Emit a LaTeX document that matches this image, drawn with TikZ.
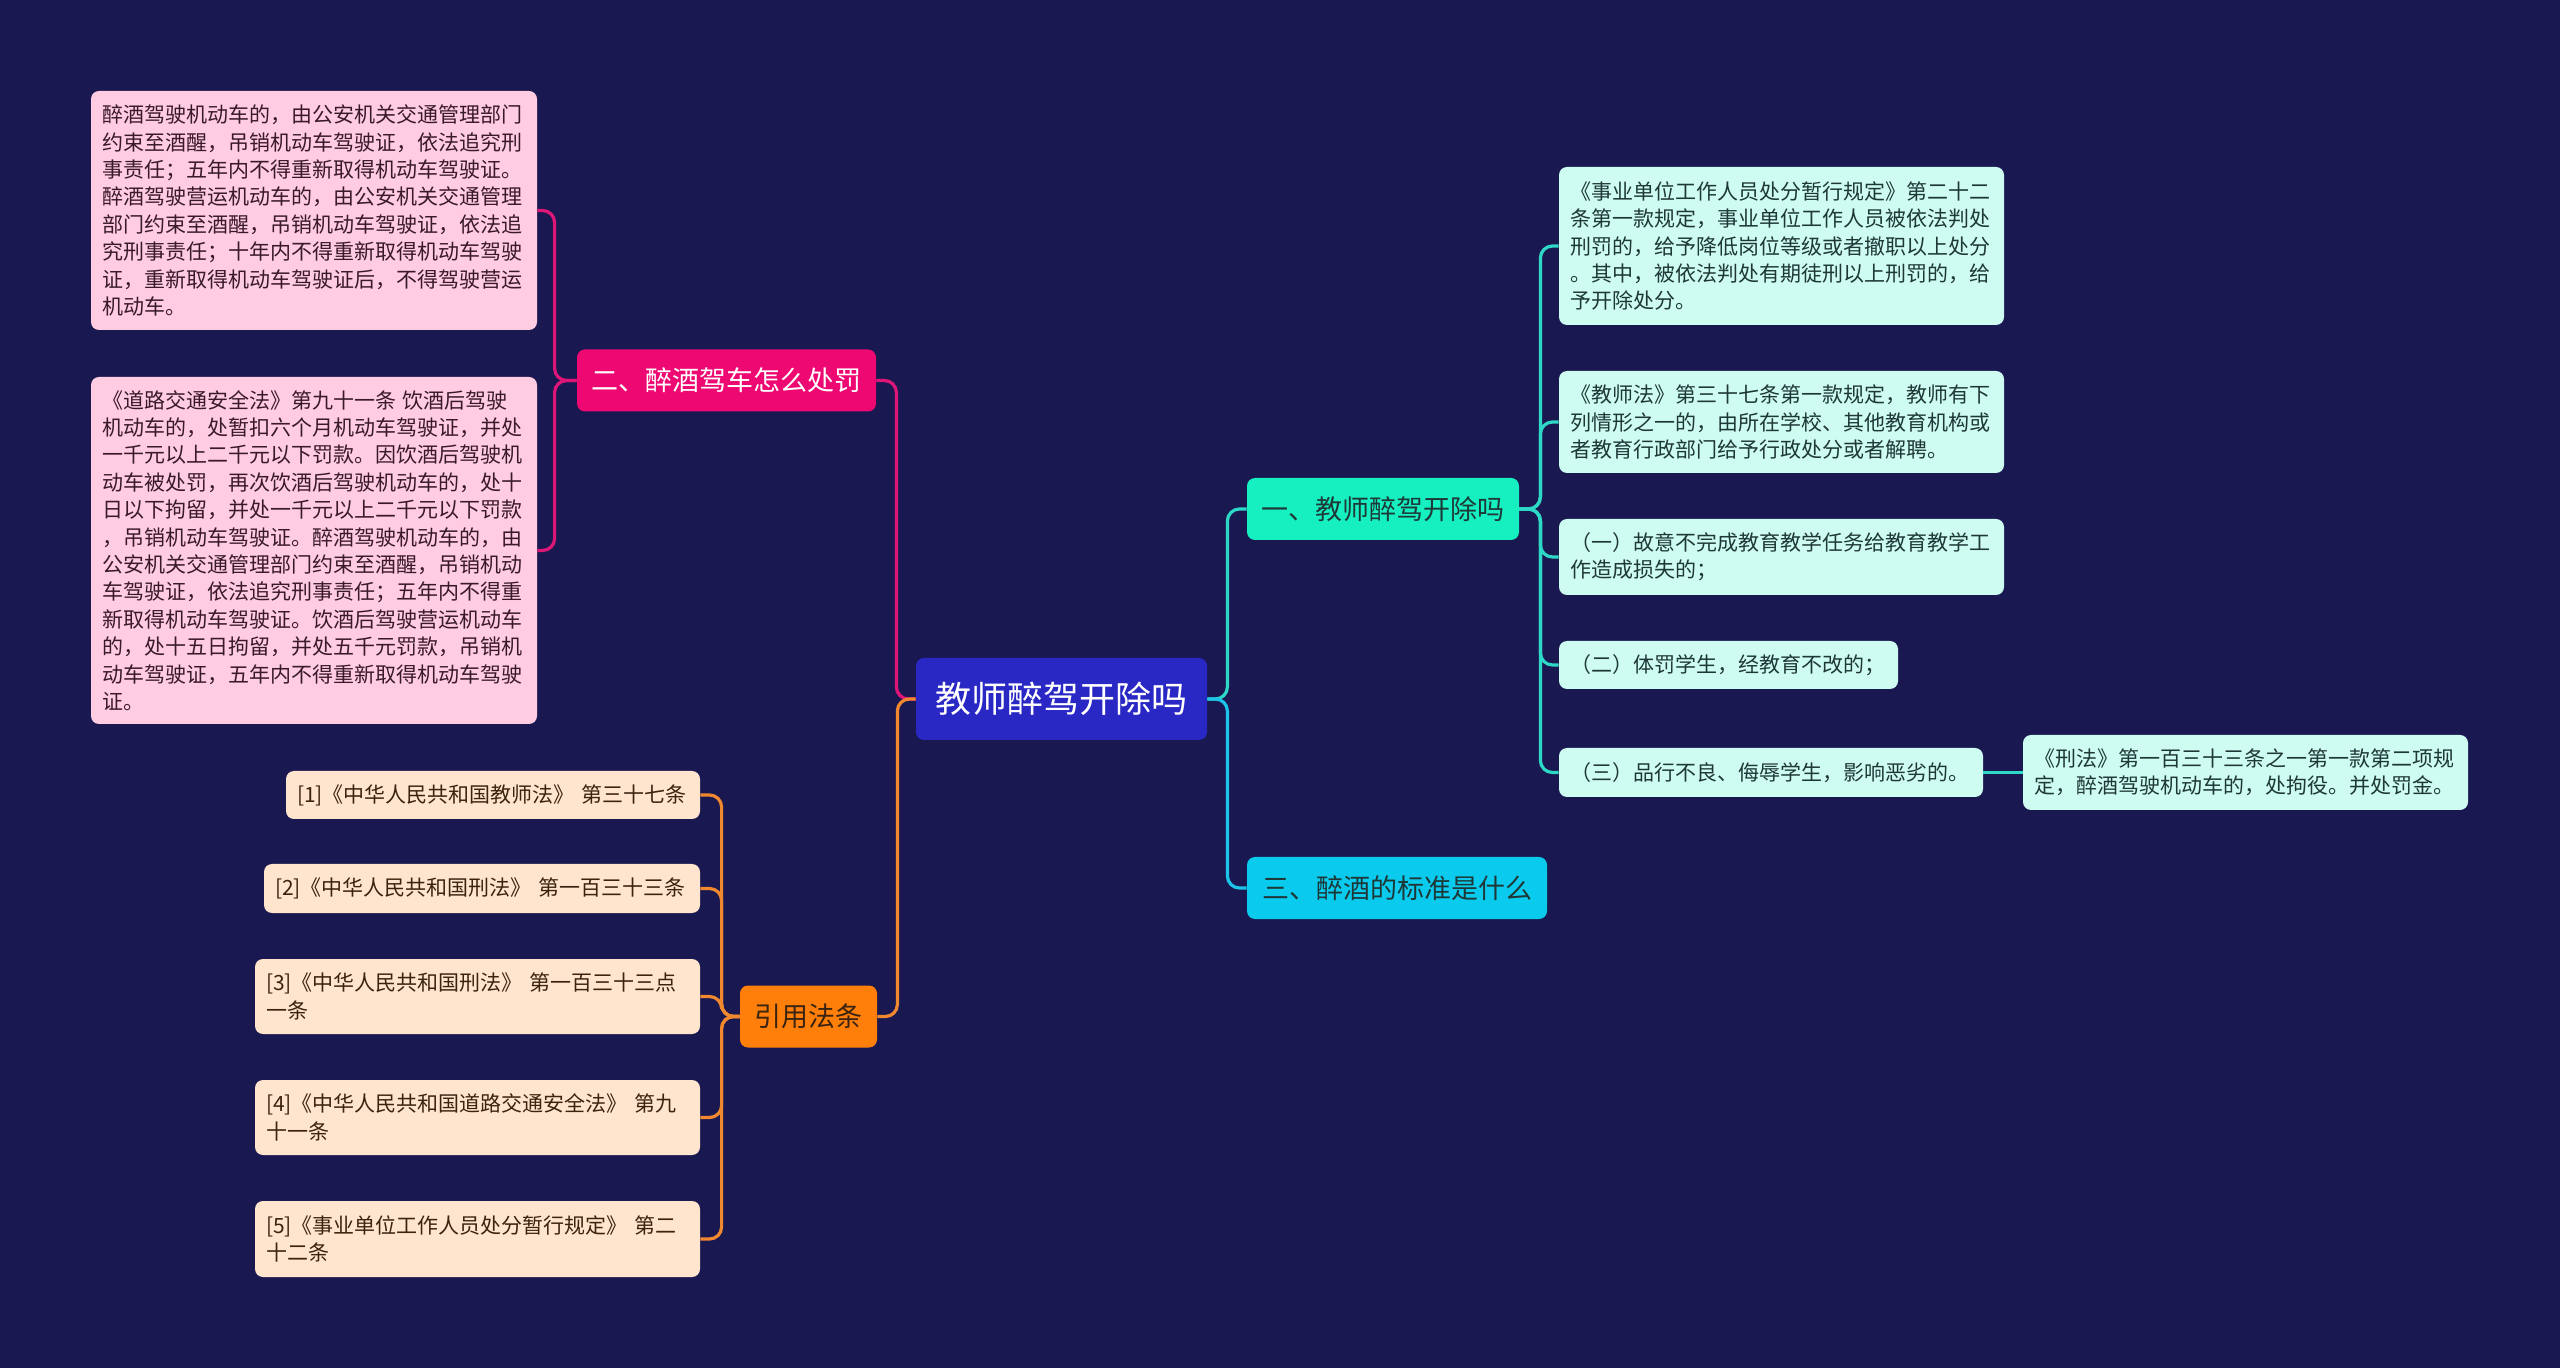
\documentclass[tikz,border=0pt]{standalone}
\usepackage{fontspec}
\setmainfont{Noto Sans CJK SC}
\definecolor{mNavy}{HTML}{1A1850}
\definecolor{mRootBlue}{HTML}{2A28C4}
\definecolor{mAqua}{HTML}{16EFC0}
\definecolor{mCyan}{HTML}{0ACBEE}
\definecolor{mPink}{HTML}{EE0872}
\definecolor{mOrange}{HTML}{FF7F0A}
\definecolor{mMint}{HTML}{CFFCF1}
\definecolor{mRose}{HTML}{FFCCE1}
\definecolor{mPeach}{HTML}{FFE5CD}
\definecolor{mTealLine}{HTML}{2ED8C6}
\definecolor{mCyanLine}{HTML}{1CC4EA}
\definecolor{mPinkLine}{HTML}{DE1678}
\definecolor{mOrangeLine}{HTML}{F08830}
\definecolor{mInkTeal}{HTML}{1E3838}
\definecolor{mInkRose}{HTML}{3A1A2A}
\definecolor{mInkPeach}{HTML}{3A2410}

\begin{document}
\begin{tikzpicture}[x=0.5pt, y=-0.5pt,
      box/.style={rounded corners=4pt, inner xsep=5.5pt, inner ysep=3pt, align=left},
      leaf/.style={box, font=\fontsize{10.5pt}{13.7pt}\selectfont},
      topic/.style={box, align=center, minimum height=31pt, font=\fontsize{13.5pt}{16pt}\selectfont},
      ln/.style={line width=1.6pt, rounded corners=6pt}]
    \fill[mNavy] (0,0) rectangle (2560,1368);
    % centre topic
    \node[box, align=center, fill=mRootBlue, text=white, minimum width=145.5pt, minimum height=41pt,
      font=\fontsize{18pt}{22pt}\selectfont] (root) at (1061.5,699) {教师醉驾开除吗};
    % main branches
    \node[topic, fill=mAqua, text=mInkTeal, minimum width=136pt] (one) at (1383,509) {一、教师醉驾开除吗};
    \node[topic, fill=mCyan, text=mInkTeal, minimum width=150pt] (three) at (1397,888) {三、醉酒的标准是什么};
    \node[topic, fill=mPink, text=white, minimum width=149.5pt] (two) at (726.5,380.5) {二、醉酒驾车怎么处罚};
    \node[topic, fill=mOrange, text=mInkPeach, minimum width=68.5pt] (cite) at (808.5,1016.5) {引用法条};
    % right side
    \node[leaf, fill=mMint, text=mInkTeal, text width=211.5pt, minimum height=79pt] (c1) at (1781.5,246)
      {《事业单位工作人员处分暂行规定》第二十二\\条第一款规定，事业单位工作人员被依法判处\\刑罚的，给予降低岗位等级或者撤职以上处分\\。其中，被依法判处有期徒刑以上刑罚的，给\\予开除处分。};
    \node[leaf, fill=mMint, text=mInkTeal, text width=211.5pt, minimum height=51pt] (c2) at (1781.5,422)
      {《教师法》第三十七条第一款规定，教师有下\\列情形之一的，由所在学校、其他教育机构或\\者教育行政部门给予行政处分或者解聘。};
    \node[leaf, fill=mMint, text=mInkTeal, text width=211.5pt, minimum height=38pt] (c3) at (1781.5,557)
      {（一）故意不完成教育教学任务给教育教学工\\作造成损失的；};
    \node[leaf, fill=mMint, text=mInkTeal, text width=158.5pt, minimum height=24pt] (c4) at (1728.5,665)
      {（二）体罚学生，经教育不改的；};
    \node[leaf, fill=mMint, text=mInkTeal, text width=201pt, minimum height=24.5pt] (c5) at (1771,772.5)
      {（三）品行不良、侮辱学生，影响恶劣的。};
    \node[leaf, fill=mMint, text=mInkTeal, text width=211.5pt, minimum height=37.5pt] (c6) at (2245.5,772.5)
      {《刑法》第一百三十三条之一第一款第二项规\\定，醉酒驾驶机动车的，处拘役。并处罚金。};
    % left side, penalties
    \node[leaf, fill=mRose, text=mInkRose, text width=212pt, minimum height=119.5pt] (p1) at (314,210.5)
      {醉酒驾驶机动车的，由公安机关交通管理部门\\约束至酒醒，吊销机动车驾驶证，依法追究刑\\事责任；五年内不得重新取得机动车驾驶证。\\醉酒驾驶营运机动车的，由公安机关交通管理\\部门约束至酒醒，吊销机动车驾驶证，依法追\\究刑事责任；十年内不得重新取得机动车驾驶\\证，重新取得机动车驾驶证后，不得驾驶营运\\机动车。};
    \node[leaf, fill=mRose, text=mInkRose, text width=212pt, minimum height=173.5pt] (p2) at (314,550.5)
      {《道路交通安全法》第九十一条 饮酒后驾驶\\机动车的，处暂扣六个月机动车驾驶证，并处\\一千元以上二千元以下罚款。因饮酒后驾驶机\\动车被处罚，再次饮酒后驾驶机动车的，处十\\日以下拘留，并处一千元以上二千元以下罚款\\，吊销机动车驾驶证。醉酒驾驶机动车的，由\\公安机关交通管理部门约束至酒醒，吊销机动\\车驾驶证，依法追究刑事责任；五年内不得重\\新取得机动车驾驶证。饮酒后驾驶营运机动车\\的，处十五日拘留，并处五千元罚款，吊销机\\动车驾驶证，五年内不得重新取得机动车驾驶\\证。};
    % left side, cited laws
    \node[leaf, fill=mPeach, text=mInkPeach, text width=196pt, minimum height=24pt] (r1) at (493,795)
      {[1]《中华人民共和国教师法》 第三十七条};
    \node[leaf, fill=mPeach, text=mInkPeach, text width=207pt, minimum height=24.5pt] (r2) at (482,888.5)
      {[2]《中华人民共和国刑法》 第一百三十三条};
    \node[leaf, fill=mPeach, text=mInkPeach, text width=211.5pt, minimum height=37.5pt] (r3) at (477.5,996.5)
      {[3]《中华人民共和国刑法》 第一百三十三点\\一条};
    \node[leaf, fill=mPeach, text=mInkPeach, text width=211.5pt, minimum height=37.5pt] (r4) at (477.5,1117.5)
      {[4]《中华人民共和国道路交通安全法》 第九\\十一条};
    \node[leaf, fill=mPeach, text=mInkPeach, text width=211.5pt, minimum height=38pt] (r5) at (477.5,1239)
      {[5]《事业单位工作人员处分暂行规定》 第二\\十二条};
    % connectors
    \draw[ln, mTealLine] (root.east) -- ++(20,0) |- (one.west);
    \draw[ln, mCyanLine] (root.east) -- ++(20,0) |- (three.west);
    \draw[ln, mPinkLine] (two.east) -- ++(20,0) |- (root.west);
    \draw[ln, mOrangeLine] (cite.east) -- ++(20,0) |- (root.west);
    \draw[ln, mTealLine] (one.east) -- ++(21,0) |- (c1.west);
    \draw[ln, mTealLine] (one.east) -- ++(21,0) |- (c2.west);
    \draw[ln, mTealLine] (one.east) -- ++(21,0) |- (c3.west);
    \draw[ln, mTealLine] (one.east) -- ++(21,0) |- (c4.west);
    \draw[ln, mTealLine] (one.east) -- ++(21,0) |- (c5.west);
    \draw[ln, mTealLine] (c5.east) -- (c6.west);
    \draw[ln, mPinkLine] (two.west) -- ++(-22,0) |- (p1.east);
    \draw[ln, mPinkLine] (two.west) -- ++(-22,0) |- (p2.east);
    \draw[ln, mOrangeLine] (cite.west) -- ++(-18,0) |- (r1.east);
    \draw[ln, mOrangeLine] (cite.west) -- ++(-18,0) |- (r2.east);
    \draw[ln, mOrangeLine] (cite.west) -- ++(-18,0) |- (r3.east);
    \draw[ln, mOrangeLine] (cite.west) -- ++(-18,0) |- (r4.east);
    \draw[ln, mOrangeLine] (cite.west) -- ++(-18,0) |- (r5.east);
\end{tikzpicture}
\end{document}
